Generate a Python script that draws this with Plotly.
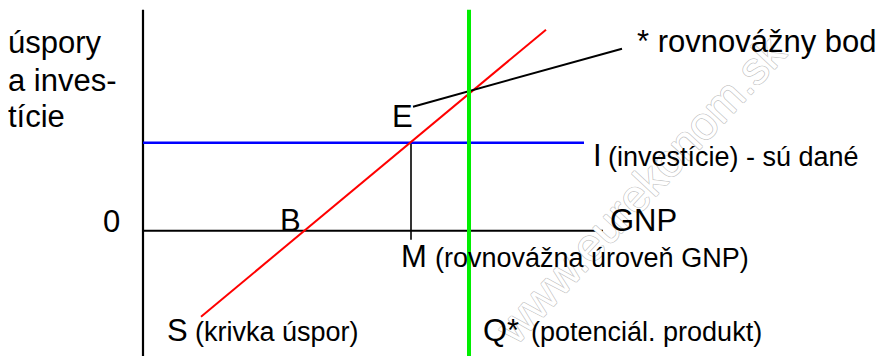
import plotly.graph_objects as go

# Diagram coordinates: origin at the intersection of the two axes,
# x = GNP (to the right), y = savings / investment (upwards).
vert_axis_x = [0, 0]
vert_axis_y = [-126, 221]
gnp_axis_x = [0, 460]
gnp_axis_y = [0, 0]
invest_x = [0, 441]
invest_y = [88, 88]
savings_x = [58, 403]
savings_y = [-86, 201]
potential_x = [326, 326]
potential_y = [-126, 221]
m_drop_x = [268, 268]
m_drop_y = [-9, 88]
pointer_x = [270, 479]
pointer_y = [124, 182]

FONT = "Liberation Sans, Arial, sans-serif"
BIG = 31
SMALL = 27

# label text, x, baseline y, size
labels = [
    ("úspory", -135, 177.7, BIG),
    ("a inves-", -135, 139.7, BIG),
    ("tície", -135, 103.7, BIG),
    ("0", -40, -1.3, BIG),
    ("B", 137, -0.3, BIG),
    ("E", 249, 103.7, BIG),
    ("M", 258, -36.3, BIG),
    ("(rovnovážna úroveň GNP)", 292, -36.3, SMALL),
    ("S", 24, -110.3, BIG),
    ("(krivka úspor)", 52, -110.3, SMALL),
    ("Q*", 340, -110.3, BIG),
    ("(potenciál. produkt)", 388, -110.3, SMALL),
    ("I", 450, 64.7, BIG),
    ("(investície) - sú dané", 465, 64.7, SMALL),
    ("GNP", 467, -0.3, BIG),
    ("* rovnovážny bod", 494, 178.7, BIG),
]

fig = go.Figure()

def seg(xs, ys, color, width):
    fig.add_trace(go.Scatter(x=xs, y=ys, mode="lines",
                             line=dict(color=color, width=width),
                             hoverinfo="skip", showlegend=False))

seg(gnp_axis_x, gnp_axis_y, "black", 2)
seg(vert_axis_x, vert_axis_y, "black", 2.2)
seg(m_drop_x, m_drop_y, "black", 1.6)
seg(invest_x, invest_y, "#0000ff", 2.4)
seg(savings_x, savings_y, "#ff0000", 2)
seg(pointer_x, pointer_y, "black", 2)
seg(potential_x, potential_y, "#00ee00", 4)

annotations = []

# watermark (outlined text), drawn first so the labels stay on top
oc = "#c4c4c4"
annotations.append(dict(
    text="www.eurekonom.sk", x=497, y=41, xref="x", yref="y",
    xanchor="center", yanchor="middle", showarrow=False, textangle=-47,
    font=dict(family=FONT, size=46, color="white",
              shadow=f"0.7px 0px 0px {oc}, -0.7px 0px 0px {oc}, 0px 0.7px 0px {oc}, 0px -0.7px 0px {oc}")))

for text, x, y, size in labels:
    annotations.append(dict(
        text=text, x=x, y=y, xref="x", yref="y",
        xanchor="left", yanchor="bottom", showarrow=False,
        yshift=-0.212 * size, borderpad=0, borderwidth=0,
        font=dict(family=FONT, size=size, color="black")))

# the page body adds an 8px offset; the figure fills the rest of the window
fig.update_layout(
    width=877, height=348,
    margin=dict(l=0, r=0, t=0, b=0),
    paper_bgcolor="white", plot_bgcolor="white",
    xaxis=dict(range=[-135, 742], visible=False, fixedrange=True),
    yaxis=dict(range=[-125.3, 222.7], visible=False, fixedrange=True),
    annotations=annotations,
)

fig.write_html("out.html")
